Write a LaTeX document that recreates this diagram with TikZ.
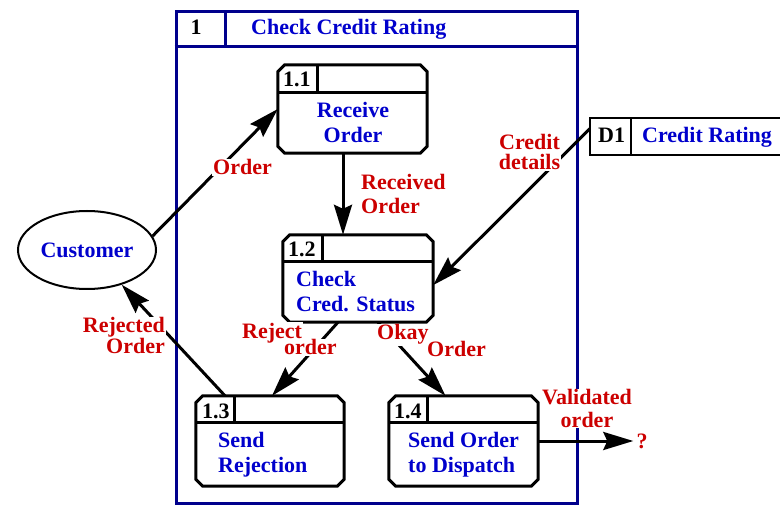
\documentclass[tikz,border=0pt]{standalone}
\usepackage{fontspec}
\setmainfont{Liberation Serif}
\usetikzlibrary{arrows.meta,calc,shapes.geometric}
\definecolor{procblue}{RGB}{0,0,204}
\definecolor{flowred}{RGB}{204,0,0}
\definecolor{framenavy}{RGB}{0,0,140}

% process box with chamfered corners, a header strip and an id cell
% #1 node name, #2 header depth, #3 id cell width
\newcommand\chambox[3]{%
  \draw[boxline] ($(#1.north west)+(7,0)$) -- ($(#1.north east)+(-7,0)$)
    -- ($(#1.north east)+(0,7)$) -- ($(#1.south east)+(0,-7)$)
    -- ($(#1.south east)+(-7,0)$) -- ($(#1.south west)+(7,0)$)
    -- ($(#1.south west)+(0,-7)$) -- ($(#1.north west)+(0,7)$) -- cycle;
  \draw[boxline] ($(#1.north west)+(0,#2)$) -- ($(#1.north east)+(0,#2)$);
  \draw[boxline] ($(#1.north west)+(#3,0)$) -- ($(#1.north west)+(#3,#2)$);
}

\begin{document}
\begin{tikzpicture}[x=1pt,y=-1pt,
  every node/.style={inner sep=0pt, font=\bfseries\fontsize{22}{25}\selectfont},
  pbox/.style={draw=none},
  boxline/.style={draw=black, line width=3pt, line join=miter},
  storeline/.style={draw=black, line width=2.5pt},
  flow/.style={draw=black, line width=3pt,
    -{Stealth[length=30pt,width=18pt,inset=4pt]}},
  title/.style={text=procblue},
  ident/.style={text=black},
  lbl/.style={text=flowred, fill=white, inner sep=1pt,
    font=\bfseries\fontsize{22}{21}\selectfont},
]
\useasboundingbox (0,0) rectangle (780,505);

% enclosing process 1
\node[draw=framenavy, line width=3pt, minimum width=401pt, minimum height=491pt]
  (proc) at (376.5,257.5) {};
\draw[framenavy, line width=3pt] ($(proc.north west)+(0,36)$) -- ($(proc.north east)+(0,36)$);
\draw[framenavy, line width=3pt] ($(proc.north west)+(51,0)$) -- ($(proc.north west)+(51,36)$);
\node[ident, anchor=base] (procid) at (196,35) {1};
\node[title, anchor=base west] (proctitle) at (251,35) {Check Credit Rating};

% sub-processes
\node[pbox, minimum width=149pt, minimum height=88pt] (p11) at (352.5,109) {};
\node[pbox, minimum width=150pt, minimum height=87pt] (p12) at (358,278.5) {};
\node[pbox, minimum width=148pt, minimum height=90pt] (p13) at (270,441) {};
\node[pbox, minimum width=149pt, minimum height=90pt] (p14) at (463.5,441) {};
\chambox{p11}{28}{40}
\chambox{p12}{27}{40}
\chambox{p13}{27}{39}
\chambox{p14}{27}{39}

\node[ident, anchor=base west] (p11id) at (283,87) {1.1};
\node[ident, anchor=base west] (p12id) at (288,257) {1.2};
\node[ident, anchor=base west] (p13id) at (202,418) {1.3};
\node[ident, anchor=base west] (p14id) at (394,418) {1.4};

% multi-line texts are placed by the baseline of their last line
\node[title, anchor=base, align=center] (p11t) at (353,143) {Receive\\Order};
\node[title, anchor=base west, align=left] (p12t) at (296,312) {Check\\Cred. Status};
\node[title, anchor=base west, align=left] (p13t) at (218,472) {Send\\Rejection};
\node[title, anchor=base west, align=left] (p14t) at (408,472) {Send Order\\to Dispatch};

% external entity
\node[ellipse, draw=black, line width=2pt, minimum width=138pt, minimum height=78pt,
  text=procblue] (cust) at (87,250) {Customer};

% data store, open towards the right
\node[draw=none, minimum width=200pt, minimum height=37pt] (d1) at (690,136.5) {};
\draw[storeline] (d1.north east) -- (d1.north west) -- (d1.south west) -- (d1.south east);
\draw[storeline] ($(d1.north west)+(41,0)$) -- ($(d1.south west)+(41,0)$);
\node[ident, anchor=base west] (d1id) at (598,143) {D1};
\node[title, anchor=base west] (d1t) at (642,143) {Credit Rating};

% destination marker
\node[text=flowred, inner sep=3pt] (qm) at (642,441) {?};

% data flows
\coordinate (ra) at (343,0);
\draw[flow] (cust.12) -- (p11.west);
\draw[flow] (p11.south -| ra) -- (p12.north -| ra);
\draw[flow] ($(d1.north west)+(0,11)$) -- (p12.-5);
\draw[flow] ($(p12.south)+(-20,0)$) -- ($(p13.north)+(2,0)$);
\draw[flow] ($(p12.south)+(20,0)$) -- ($(p14.north)+(-18,0)$);
\draw[flow] ($(p13.north)+(-45,0)$) -- (cust.-45);
\draw[flow] (p14.east) -- (qm.west);

% flow labels, on a white ground over the flow lines
\node[lbl, anchor=base west] (lorder) at (212,175) {Order};
\node[lbl, anchor=base west, align=left, font=\bfseries\fontsize{22}{24}\selectfont]
  (lrecv) at (360,214) {Received\\Order};
\node[lbl, anchor=base, align=center, font=\bfseries\fontsize{22}{20}\selectfont]
  (lcred) at (529.5,170) {Credit\\details};
\node[lbl, anchor=base east, align=right] (lrej) at (166,354) {Rejected\\Order};
\node[lbl, anchor=base west] (lreject) at (241,338) {Reject};
\node[lbl, anchor=base west] (lrejord) at (283,355) {order};
\node[lbl, anchor=base west] (lokay) at (376,340) {Okay};
\node[lbl, anchor=base west] (lokord) at (426,357) {Order};
\node[lbl, anchor=base, align=center, font=\bfseries\fontsize{22}{22}\selectfont]
  (lvalid) at (587,427) {Validated\\order};
\end{tikzpicture}
\end{document}
